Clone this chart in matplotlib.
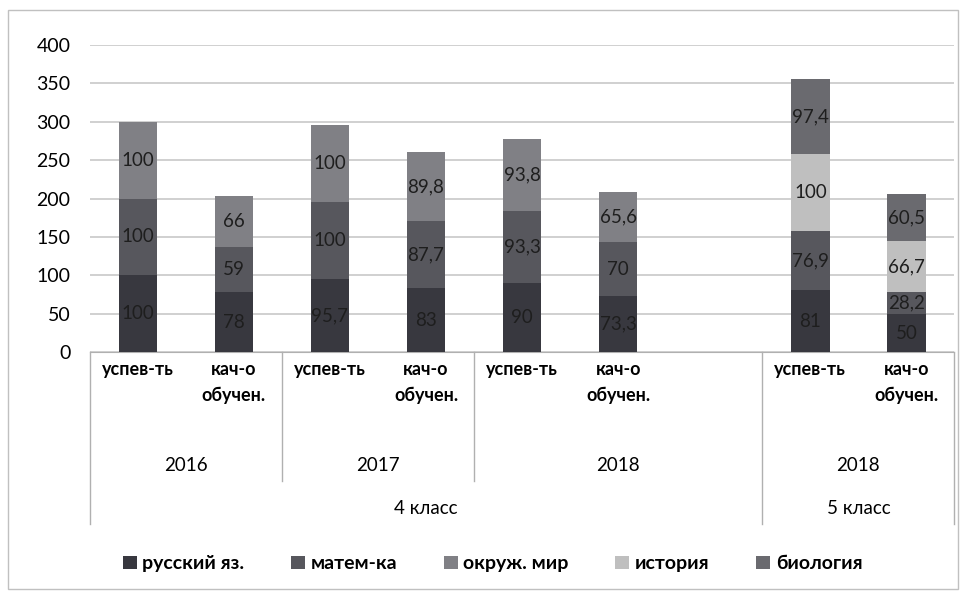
import numpy as np
import matplotlib.pyplot as plt
import matplotlib.transforms as mtransforms
from matplotlib.patches import Rectangle

plt.rcParams['font.family'] = ['Lato', 'DejaVu Sans']

# Категории (пустой слот между 4 и 5 классом)
categories = ['успев-ть', 'кач-о\nобучен.', 'успев-ть', 'кач-о\nобучен.',
              'успев-ть', 'кач-о\nобучен.', '', 'успев-ть', 'кач-о\nобучен.']
years = ['2016', '2017', '2018', '2018']
classes = ['4 класс', '5 класс']

russkiy = [100, 78, 95.7, 83, 90, 73.3, 0, 81, 50]
matem = [100, 59, 100, 87.7, 93.3, 70, 0, 76.9, 28.2]
okruzh = [100, 66, 100, 89.8, 93.8, 65.6, 0, 0, 0]
istoriya = [0, 0, 0, 0, 0, 0, 0, 100, 66.7]
biologiya = [0, 0, 0, 0, 0, 0, 0, 97.4, 60.5]

series = [('русский яз.', russkiy, '#38383f'),
          ('матем-ка', matem, '#57575d'),
          ('окруж. мир', okruzh, '#808085'),
          ('история', istoriya, '#bfbfbf'),
          ('биология', biologiya, '#6a6a6f')]


def fmt(v):
    s = ('%g' % v).replace('.', ',')
    return s


fig = plt.figure(figsize=(9.66, 5.98), dpi=100)
ax = fig.add_axes([0.093, 0.411, 0.895, 0.514])

x = np.arange(len(categories))
bottom = np.zeros(len(categories))
for name, vals, color in series:
    vals = np.array(vals, dtype=float)
    ax.bar(x, vals, 0.4, bottom=bottom, color=color, label=name, zorder=3)
    for xi, v, b in zip(x, vals, bottom):
        if v > 0:
            ax.text(xi, b + v / 2, fmt(v), ha='center', va='center',
                    fontsize=13.5, color='#1e1e1e', zorder=4)
    bottom += vals

ax.set_xlim(-0.5, len(categories) - 0.5)
ax.set_ylim(0, 400)
ax.set_yticks(np.arange(0, 401, 50))
ax.tick_params(axis='y', length=0, labelsize=14, pad=14)
ax.tick_params(axis='x', length=0, labelbottom=False)
ax.yaxis.grid(True, color='#c8c8c8', linewidth=1.2, zorder=0)
for s in ['top', 'right', 'left']:
    ax.spines[s].set_visible(False)
ax.spines['bottom'].set_color('#b0b0b0')

# Многоуровневая ось категорий
tr = mtransforms.blended_transform_factory(ax.transData, ax.transAxes)
for xi, c in zip(x, categories):
    if c:
        ax.text(xi, -0.03, c, transform=tr, ha='center', va='top',
                fontsize=13, fontweight='bold', linespacing=1.6)

year_bounds = [(-0.5, 1.5), (1.5, 3.5), (3.5, 6.5), (6.5, 8.5)]
for (a, b), y in zip(year_bounds, years):
    ax.text((a + b) / 2, -0.37, y, transform=tr, ha='center', va='center',
            fontsize=13.5)

class_bounds = [(-0.5, 6.5), (6.5, 8.5)]
for (a, b), c in zip(class_bounds, classes):
    ax.text((a + b) / 2, -0.51, c, transform=tr, ha='center', va='center',
            fontsize=13.5)

lc = '#b0b0b0'
for xb in [-0.5, 6.5, 8.5]:
    ax.plot([xb, xb], [0, -0.56], transform=tr, color=lc, lw=1, clip_on=False)
for xb in [1.5, 3.5]:
    ax.plot([xb, xb], [0, -0.42], transform=tr, color=lc, lw=1, clip_on=False)

ax.legend(loc='center', bbox_to_anchor=(0.51, 0.057),
          bbox_transform=fig.transFigure, ncol=5, frameon=False,
          prop={'size': 14, 'weight': 'bold'}, handlelength=0.7,
          handleheight=0.7, handletextpad=0.3, columnspacing=2.4)

fig.patches.append(Rectangle((0.008, 0.015), 0.984, 0.968,
                             transform=fig.transFigure, fill=False,
                             edgecolor='#c0c0c0', lw=1))

fig.savefig('out.png', dpi=100)
